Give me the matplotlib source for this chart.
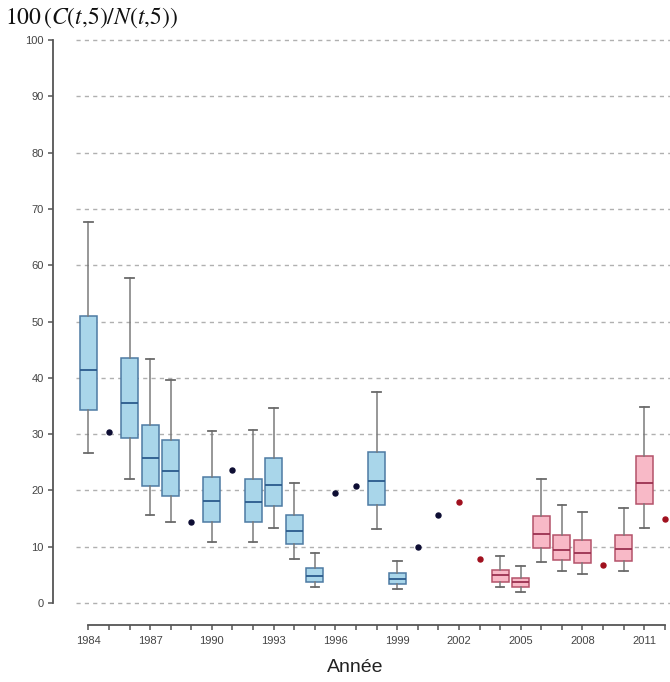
import matplotlib
matplotlib.use("Agg")
import matplotlib.pyplot as plt
import numpy as np

# --- data ---
# years with a full box (blue = before 2002, pink = 2004 on)
box_years = [1984, 1986, 1987, 1988, 1990, 1992, 1993, 1994, 1995, 1998, 1999,
             2004, 2005, 2006, 2007, 2008, 2010, 2011]
whis_lo = [26.6, 22.0, 15.6, 14.4, 10.8, 10.8, 13.4, 7.8, 2.8, 13.1, 2.4,
           2.9, 1.9, 7.2, 5.6, 5.2, 5.6, 13.3]
q1 = [34.2, 29.3, 20.8, 19.0, 14.4, 14.4, 17.3, 10.5, 3.7, 17.4, 3.3,
      3.8, 2.8, 9.7, 7.6, 7.1, 7.5, 17.6]
med = [41.4, 35.5, 25.7, 23.4, 18.1, 17.9, 21.0, 12.8, 4.8, 21.7, 4.2,
       4.9, 3.7, 12.3, 9.4, 8.9, 9.6, 21.3]
q3 = [50.9, 43.5, 31.6, 29.0, 22.3, 22.1, 25.7, 15.7, 6.2, 26.9, 5.3,
      5.9, 4.4, 15.5, 12.0, 11.2, 12.0, 26.1]
whis_hi = [67.6, 57.8, 43.3, 39.6, 30.5, 30.7, 34.6, 21.3, 8.9, 37.4, 7.5,
           8.3, 6.6, 22.1, 17.4, 16.2, 16.9, 34.9]
box_group = ["blue"] * 11 + ["pink"] * 7

# years with a single value
pt_years = [1985, 1989, 1991, 1996, 1997, 2000, 2001, 2002, 2003, 2009, 2012]
pt_vals = [30.4, 14.3, 23.6, 19.5, 20.8, 10.0, 15.6, 18.0, 7.9, 6.7, 15.0]
pt_group = ["blue"] * 7 + ["pink"] * 4

styles = {
    "blue": dict(face="#a9d6ea", edge="#4d7aa3", median="#2a5a8c", dot="#0d0d33"),
    "pink": dict(face="#f8b9c7", edge="#b4526a", median="#9a3050", dot="#a0101e"),
}

W, H = 670, 682
PX = 72 / 100  # points per pixel at dpi 100
fig = plt.figure(figsize=(W / 100, H / 100), dpi=100)
ax = fig.add_axes([76 / W, (H - 603) / H, (W - 76) / W, (603 - 40) / H])

# gridlines
for g in range(0, 101, 10):
    ax.axhline(g, color="#b0b0b0", linestyle=(0, (3, 3)), linewidth=1.0, zorder=0,
               clip_on=False)

# boxes
for grp in ("blue", "pink"):
    st = styles[grp]
    stats = []
    pos = []
    for i, y in enumerate(box_years):
        if box_group[i] != grp:
            continue
        stats.append(dict(whislo=whis_lo[i], q1=q1[i], med=med[i], q3=q3[i],
                          whishi=whis_hi[i], fliers=[]))
        pos.append(y)
    ax.bxp(stats, positions=pos, widths=0.82, patch_artist=True,
           showfliers=False, manage_ticks=False,
           boxprops=dict(facecolor=st["face"], edgecolor=st["edge"], linewidth=1.1),
           medianprops=dict(color=st["median"], linewidth=1.3),
           whiskerprops=dict(color="#7a7a7a", linewidth=1.1),
           capprops=dict(color="#6a6a6a", linewidth=1.3),
           capwidths=0.42)

# single points
for y, v, grp in zip(pt_years, pt_vals, pt_group):
    ax.plot(y, v, "o", color=styles[grp]["dot"], markersize=3.6, clip_on=False,
            zorder=3)

ax.set_xlim(1983.4, 2012.25)
ax.set_ylim(0, 100)

for s in ("top", "right"):
    ax.spines[s].set_visible(False)
ax.spines["left"].set_position(("outward", 23 * PX))
ax.spines["bottom"].set_position(("outward", 22 * PX))
ax.spines["left"].set_bounds(0, 100)
ax.spines["bottom"].set_bounds(1984, 2012)
for s in ("left", "bottom"):
    ax.spines[s].set_color("#555555")
    ax.spines[s].set_linewidth(1.3)

ax.set_yticks(range(0, 101, 10))
ax.set_xticks(range(1984, 2013))
ax.set_xticklabels([str(y) if (y - 1984) % 3 == 0 else "" for y in range(1984, 2013)])
ax.tick_params(axis="both", colors="#555555", labelcolor="#444444", length=5 * PX,
               width=1.1, labelsize=8)
ax.tick_params(axis="x", pad=4)
ax.tick_params(axis="y", pad=3)
for lab in ax.get_xticklabels() + ax.get_yticklabels():
    lab.set_family("Liberation Sans")

fig.text(355 / W, 1 - 668 / H, "Année", ha="center", va="center", fontsize=14,
         family="Liberation Sans", color="#222222")

plt.rcParams["mathtext.fontset"] = "stix"
fig.text(5 / W, 1 - 18 / H, r"$100\,(C(t{,}5)/N(t{,}5))$", ha="left", va="center",
         fontsize=17, color="#111111")

fig.savefig("out.png", dpi=100)
